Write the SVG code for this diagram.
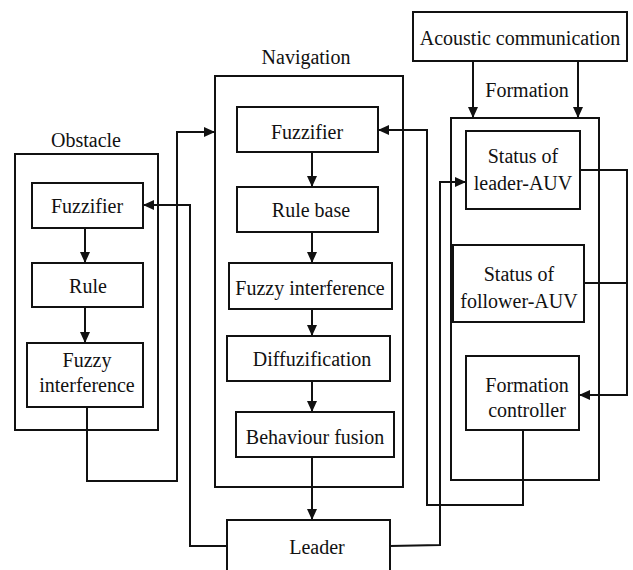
<svg xmlns="http://www.w3.org/2000/svg" width="633" height="570" viewBox="0 0 633 570">
<defs>
<marker id="ah" markerUnits="userSpaceOnUse" markerWidth="12" markerHeight="10" refX="11" refY="5" orient="auto"><path d="M0,0 L11,5 L0,10 z" fill="#111"/></marker>
</defs>
<style>
rect{fill:#fff;stroke:#111;stroke-width:2}
.c{fill:none;stroke:#111;stroke-width:2}
text{font-family:"Liberation Serif","Times New Roman",serif;font-size:20px;fill:#111;text-anchor:middle}
</style>
<rect width="633" height="570" style="stroke:none"/>
<g id="obstacle"><rect x="15" y="154" width="143" height="276"/><text x="86" y="147">Obstacle</text></g>
<g id="navigation"><rect x="215" y="76" width="188" height="411"/><text x="306" y="64">Navigation</text></g>
<g id="formation"><rect x="451" y="118" width="148" height="362"/><text x="527" y="97">Formation</text></g>
<g id="acoustic"><rect x="413" y="12" width="214" height="49"/><text x="520" y="45">Acoustic communication</text></g>
<g id="obs-fuzzifier"><rect x="32" y="183" width="111" height="45"/><text x="87" y="213">Fuzzifier</text></g>
<g id="obs-rule"><rect x="32" y="263" width="111" height="44"/><text x="88" y="293">Rule</text></g>
<g id="obs-fuzzy"><rect x="27" y="343" width="116" height="64"/><text x="87" y="367">Fuzzy</text><text x="87" y="392">interference</text></g>
<g id="nav-fuzzifier"><rect x="237" y="107" width="141" height="45"/><text x="307" y="139">Fuzzifier</text></g>
<g id="nav-rulebase"><rect x="237" y="187" width="141" height="45"/><text x="311" y="217">Rule base</text></g>
<g id="nav-fuzzy"><rect x="229" y="263" width="163" height="46"/><text x="310" y="295">Fuzzy interference</text></g>
<g id="nav-diff"><rect x="227" y="336" width="163" height="45"/><text x="312" y="366">Diffuzification</text></g>
<g id="nav-fusion"><rect x="236" y="412" width="158" height="45"/><text x="315" y="444">Behaviour fusion</text></g>
<g id="leader"><rect x="227" y="520" width="163" height="60"/><text x="317" y="554">Leader</text></g>
<g id="status-leader"><rect x="466" y="131" width="114" height="78"/><text x="523" y="163">Status of</text><text x="523" y="190">leader-AUV</text></g>
<g id="status-follower"><rect x="453" y="245" width="131" height="77"/><text x="519" y="281">Status of</text><text x="519" y="308">follower-AUV</text></g>
<g id="formation-controller"><rect x="466" y="356" width="113" height="74"/><text x="527" y="392">Formation</text><text x="527" y="417">controller</text></g>
<g id="connectors">
<path class="c" d="M85,228 V263" marker-end="url(#ah)"/>
<path class="c" d="M85,307 V343" marker-end="url(#ah)"/>
<path class="c" d="M312,152 V187" marker-end="url(#ah)"/>
<path class="c" d="M312,232 V263" marker-end="url(#ah)"/>
<path class="c" d="M312,309 V336" marker-end="url(#ah)"/>
<path class="c" d="M312,381 V412" marker-end="url(#ah)"/>
<path class="c" d="M312,457 V520" marker-end="url(#ah)"/>
<path class="c" d="M473,61 V118" marker-end="url(#ah)"/>
<path class="c" d="M578,61 V118" marker-end="url(#ah)"/>
<path class="c" d="M87,407 V481 H177 V132 H215" marker-end="url(#ah)"/>
<path class="c" d="M227,546 H190 V205 H143" marker-end="url(#ah)"/>
<path class="c" d="M390,546 L440,545 V182 H466" marker-end="url(#ah)"/>
<path class="c" d="M523,430 V505 H427 V130 H378" marker-end="url(#ah)"/>
<path class="c" d="M580,170 H627 V395 H579" marker-end="url(#ah)"/>
<path class="c" d="M584,283 H627"/>
</g>
</svg>
